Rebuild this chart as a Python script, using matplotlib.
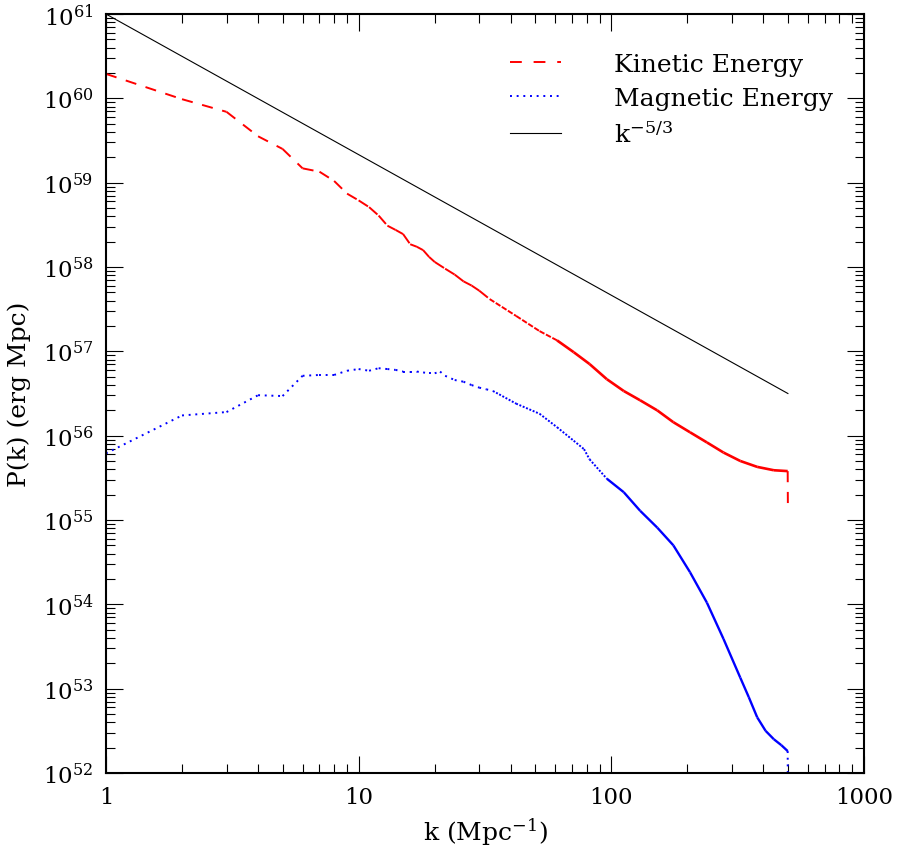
import numpy as np
import matplotlib
matplotlib.use('Agg')
import matplotlib.pyplot as plt
from matplotlib.collections import LineCollection
from matplotlib.lines import Line2D
from matplotlib.ticker import LogLocator, NullFormatter

plt.rcParams['font.family'] = 'DejaVu Serif'
plt.rcParams['mathtext.fontset'] = 'dejavuserif'
plt.rcParams['lines.scale_dashes'] = False

# kinetic energy spectrum (log10 of P)
ke_k = [1, 2, 3, 4, 5, 6, 7, 8, 9, 10, 11, 12, 13, 14, 15, 16, 17, 18, 19, 20,
        22, 24, 26, 28, 30, 33, 42, 52, 61, 71, 82, 96, 112, 130, 152, 176, 205,
        239, 278, 324, 378, 440, 499, 500]
ke_logP = [60.29, 59.99, 59.84, 59.55, 59.40, 59.17, 59.13, 59.02, 58.87, 58.79,
           58.71, 58.61, 58.49, 58.44, 58.39, 58.27, 58.24, 58.20, 58.12, 58.06,
           57.98, 57.91, 57.83, 57.78, 57.72, 57.62, 57.42, 57.24, 57.13, 56.99,
           56.85, 56.67, 56.53, 56.42, 56.30, 56.16, 56.04, 55.92, 55.80, 55.70,
           55.63, 55.59, 55.58, 55.11]

# magnetic energy spectrum (log10 of P)
mag_k = [1, 2, 3, 4, 5, 6, 7, 8, 9, 10, 11, 12, 13, 14, 15, 16, 17, 18, 19, 20,
         21, 22, 24, 26, 28, 30, 32, 34, 36, 42, 52, 61, 71, 78, 82, 96, 112, 130,
         152, 176, 205, 239, 278, 324, 350, 378, 408, 440, 471, 499, 500]
mag_logP = [55.79, 56.24, 56.28, 56.48, 56.47, 56.71, 56.72, 56.72, 56.77, 56.79,
            56.77, 56.80, 56.79, 56.78, 56.76, 56.76, 56.76, 56.75, 56.74, 56.74,
            56.76, 56.71, 56.66, 56.64, 56.60, 56.57, 56.55, 56.53, 56.49, 56.38,
            56.26, 56.10, 55.94, 55.84, 55.72, 55.49, 55.33, 55.11, 54.91, 54.70,
            54.38, 54.02, 53.59, 53.13, 52.90, 52.66, 52.50, 52.40, 52.33, 52.26,
            51.5]

# k^-5/3 reference line end points
ref_k = [1, 500]
ref_logP = [61.0, 56.5]

xticks = [1, 10, 100, 1000]
xticklabels = ['1', '10', '100', '1000']
ydecades = list(range(52, 62))

dash = (0, (8, 7))
dots = (0, (1.4, 3.4))


def segs(k, logp):
    p = np.power(10.0, np.array(logp))
    pts = np.column_stack([k, p])
    return [pts[i:i + 2] for i in range(len(pts) - 1)]


fig = plt.figure(figsize=(8.98, 8.53), dpi=100)
ax = fig.add_axes([0.118, 0.0926, 0.8441, 0.8898])
ax.set_xscale('log')
ax.set_yscale('log')

# the original plotter restarts the dash pattern on every segment,
# so the densely sampled high-k part comes out nearly solid
ke_segs = segs(ke_k, ke_logP)
ke_ls, ke_lw = [], []
for i in range(len(ke_segs)):
    if i == len(ke_segs) - 1 or ke_k[i] < 33:
        ke_ls.append(dash)
        ke_lw.append(1.4)
    elif ke_k[i] < 60:
        ke_ls.append((0, (4, 1.2)))
        ke_lw.append(1.4)
    else:
        ke_ls.append('-')
        ke_lw.append(1.9)
ax.add_collection(LineCollection(ke_segs, colors='red', linewidths=ke_lw, linestyles=ke_ls))

mag_segs = segs(mag_k, mag_logP)
mag_ls, mag_lw = [], []
for i in range(len(mag_segs)):
    if i == len(mag_segs) - 1 or mag_k[i] < 34:
        mag_ls.append(dots)
        mag_lw.append(1.4)
    elif mag_k[i] < 90:
        mag_ls.append((0, (1.4, 1.2)))
        mag_lw.append(1.4)
    else:
        mag_ls.append('-')
        mag_lw.append(1.7)
ax.add_collection(LineCollection(mag_segs, colors='blue', linewidths=mag_lw, linestyles=mag_ls))

ax.plot(ref_k, np.power(10.0, ref_logP), color='black', lw=0.8)

ax.set_xlim(1, 1000)
ax.set_ylim(1e52, 1e61)
ax.set_xticks(xticks)
ax.set_xticklabels(xticklabels)
ax.xaxis.set_minor_locator(LogLocator(base=10, subs=np.arange(2, 10), numticks=100))
ax.xaxis.set_minor_formatter(NullFormatter())
ax.set_yticks([10.0 ** d for d in ydecades])
ax.set_yticklabels([r'$10^{%d}$' % d for d in ydecades])
ax.yaxis.set_minor_locator(LogLocator(base=10, subs=np.arange(2, 10), numticks=100))
ax.yaxis.set_minor_formatter(NullFormatter())

ax.tick_params(which='both', direction='in', top=True, right=True, width=0.8)
ax.tick_params(which='major', length=12, labelsize=16.5, pad=9)
ax.tick_params(which='minor', length=6.5)
for s in ax.spines.values():
    s.set_linewidth(1.5)

ax.set_xlabel(r'k (Mpc$^{-1}$)', fontsize=18, labelpad=6)
ax.set_ylabel('P(k) (erg Mpc)', fontsize=18, labelpad=8)

handles = [Line2D([], [], color='red', lw=1.4, linestyle=(0, (8.5, 8.5))),
           Line2D([], [], color='blue', lw=1.4, linestyle=dots),
           Line2D([], [], color='black', lw=0.8)]
ax.legend(handles, ['Kinetic Energy', 'Magnetic Energy', r'k$^{-5/3}$'],
          loc='upper left', bbox_to_anchor=(0.533, 0.949), frameon=False,
          fontsize=18, handlelength=2.05, handletextpad=2.1, labelspacing=0.45,
          borderpad=0, borderaxespad=0)

fig.savefig('out.png', dpi=100)
